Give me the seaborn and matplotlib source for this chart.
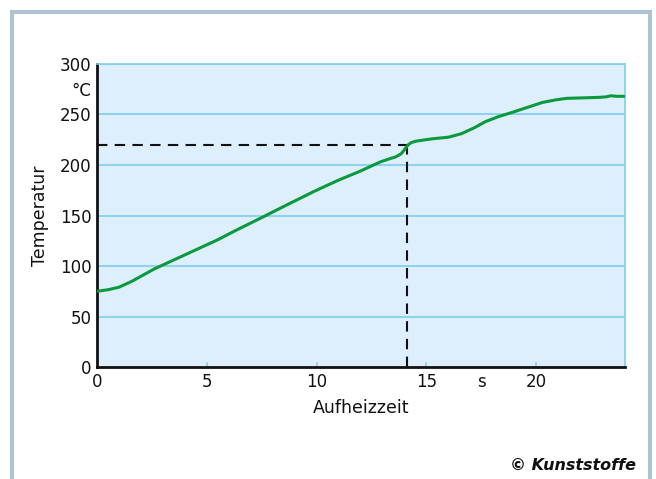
import matplotlib
matplotlib.use("Agg")
import matplotlib.pyplot as plt
import matplotlib.patches as patches
import seaborn as sns
import pandas as pd

# Aufheizkurve
zeit = [0, 0.5, 1.0, 1.6, 2.1, 2.6, 3.1, 3.6, 4.5, 5.5, 6.3, 7.6, 8.6, 9.9,
        11.0, 12.0, 12.9, 13.3, 13.6, 13.85, 14.0, 14.15, 14.3, 14.5, 14.8,
        15.3, 16.0, 16.6, 17.2, 17.7, 18.3, 18.9, 19.6, 20.3, 20.9, 21.4,
        22.2, 22.9, 23.2, 23.4, 23.7, 24.0]
temperatur = [75, 76.5, 79, 85, 91, 97, 102, 107, 116, 126, 135, 149, 160, 174,
              185, 194, 203, 206, 208, 211, 215, 219.5, 222, 223.5, 224.5,
              226, 227.5, 231, 237, 243, 248, 252, 257, 262, 264.5, 266,
              266.5, 267, 267.5, 268.5, 268, 268]
schwelle_zeit = 14.1
schwelle_temp = 220
xticks = [0, 5, 10, 15, 17.5, 20]
xticklabels = ["0", "5", "10", "15", "s", "20"]
yticks = [0, 50, 100, 150, 200, 250, 275, 300]
yticklabels = ["0", "50", "100", "150", "200", "250", "°C", "300"]

df = pd.DataFrame({"Aufheizzeit": zeit, "Temperatur": temperatur})

sns.set_style("white")
plt.rcParams["font.family"] = ["DejaVu Sans"]

fig = plt.figure(figsize=(6.56, 4.79), dpi=100)
fig.patch.set_facecolor("white")
ax = fig.add_axes([0.1479, 0.2338, 0.8048, 0.6326])
ax.set_facecolor("#ddeefc")

for v in [50, 100, 150, 200, 250, 300]:
    ax.axhline(v, color="#7fcdf0", lw=1.2, zorder=1)

sns.lineplot(data=df, x="Aufheizzeit", y="Temperatur", ax=ax,
             color="#0a9a3c", lw=2.2, zorder=4)

ax.plot([0, schwelle_zeit], [schwelle_temp, schwelle_temp], color="#111111",
        lw=1.5, ls=(0, (5, 3.5)), zorder=3)
ax.plot([schwelle_zeit, schwelle_zeit], [0, schwelle_temp], color="#111111",
        lw=1.5, ls=(0, (5, 3.5)), zorder=3)

ax.set_xlim(0, 24.05)
ax.set_ylim(0, 300)
ax.set_xticks(xticks)
ax.set_xticklabels(xticklabels)
ax.set_yticks(yticks)
ax.set_yticklabels(yticklabels)
ax.tick_params(axis="both", length=0, labelsize=12, colors="#111111", pad=4)

for v in [5, 10, 15, 20]:
    ax.plot([v, v], [0, 4], color="#7fcdf0", lw=1.2, zorder=2)

for s in ["left", "bottom"]:
    ax.spines[s].set_color("#111111")
    ax.spines[s].set_linewidth(2)
for s in ["right", "top"]:
    ax.spines[s].set_color("#7fcdf0")
    ax.spines[s].set_linewidth(1.2)

ax.set_xlabel("Aufheizzeit", fontsize=12.5, color="#111111", labelpad=6)
ax.set_ylabel("Temperatur", fontsize=12.5, color="#111111", labelpad=8)

fig.patches.append(patches.Rectangle((12 / 656, -0.05), 638 / 656, 1 - 12 / 479 + 0.05,
                                     transform=fig.transFigure, fill=False,
                                     edgecolor="#adc3d0", lw=3, zorder=0))
fig.text(636 / 656, 1 - 466 / 479, "© Kunststoffe", ha="right", va="center",
         fontsize=11.5, fontweight="bold", fontstyle="italic", color="#111111")

fig.savefig("out.png", dpi=100)
